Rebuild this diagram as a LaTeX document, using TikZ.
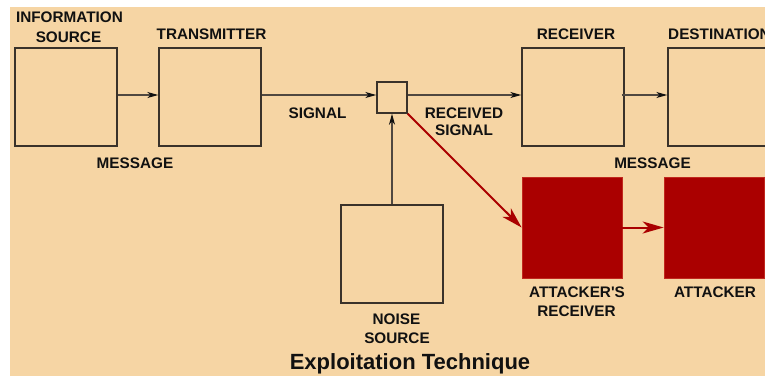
\documentclass[tikz,border=0pt]{standalone}
\usepackage{fontspec}
\setmainfont{Liberation Sans}[Ligatures=TeXOff]
\usetikzlibrary{arrows.meta}
\definecolor{tan}{RGB}{246,213,164}
\definecolor{boxline}{RGB}{58,50,42}
\definecolor{wireline}{RGB}{80,72,64}
\definecolor{darkred}{RGB}{170,0,0}
\definecolor{redline}{RGB}{192,40,30}
\definecolor{ink}{RGB}{17,17,17}
\tikzset{
  blockbox/.style={draw=boxline, line width=1.4pt, minimum width=102pt, minimum height=98pt, inner sep=0pt},
  tinybox/.style={draw=boxline, line width=1.4pt, minimum width=30pt, minimum height=31pt, inner sep=0pt},
  redbox/.style={fill=darkred, draw=redline, line width=0.8pt, minimum width=100pt, minimum height=101pt, inner sep=0pt},
  wire/.style={draw=wireline, line width=1.2pt, -{Stealth[length=11pt, width=6pt, inset=3pt, color=ink]}},
  redwire/.style={draw=darkred, line width=2pt, -{Stealth[length=21pt, width=12pt, inset=6pt]}},
  lbl/.style={font=\bfseries\fontsize{15.3}{18}\selectfont, text=ink, inner sep=0pt, anchor=base},
  titlelbl/.style={font=\bfseries\fontsize{22}{26}\selectfont, text=ink, inner sep=0pt, anchor=base}
}
\begin{document}
\begin{tikzpicture}[x=1pt, y=-1pt]
  \useasboundingbox (0,0) rectangle (765,376);
  \clip (0,0) rectangle (765,376);
  \fill[white] (0,0) rectangle (765,376);
  \fill[tan] (10,7) rectangle (765,376);

  % main channel blocks
  \node[blockbox] (info) at (66,97) {};
  \node[blockbox] (tx)   at (210,97) {};
  \node[tinybox]  (mix)  at (392,97.5) {};
  \node[blockbox] (rx)   at (573,97) {};
  \node[blockbox] (dest) at (719,97) {};
  \node[blockbox] (noise) at (392,254) {};

  % attacker blocks
  \node[redbox] (arx) at (572,227.5) {};
  \node[redbox] (att) at (714,227.5) {};

  % connectors
  \draw[wire] ([yshift=2pt]info.east) -- ([yshift=2pt]tx.west);
  \draw[wire] ([yshift=2pt]tx.east) -- ([yshift=2.5pt]mix.west);
  \draw[wire] ([yshift=2.5pt]mix.east) -- ([yshift=2pt]rx.west);
  \draw[wire] ([yshift=2pt,xshift=-3pt]rx.east) -- ([yshift=2pt]dest.west);
  \draw[wire] (noise.north) -- (mix.south);
  \draw[redwire] (mix.south east) -- (arx.west);
  \draw[redwire] (arx.east) -- (att.west);

  % labels
  \node[lbl] (l-info1) at (69.5,22) {INFORMATION};
  \node[lbl] (l-info2) at (68.5,42) {SOURCE};
  \node[lbl] (l-tx) at (211.5,39) {TRANSMITTER};
  \node[lbl] (l-msg1) at (135,168) {MESSAGE};
  \node[lbl] (l-sig) at (317.5,118) {SIGNAL};
  \node[lbl] (l-rsig1) at (464,118) {RECEIVED};
  \node[lbl] (l-rsig2) at (464,135) {SIGNAL};
  \node[lbl] (l-rx) at (576,39) {RECEIVER};
  \node[lbl, anchor=base west] (l-dest) at (668,39) {DESTINATION};
  \node[lbl] (l-msg2) at (652.5,168) {MESSAGE};
  \node[lbl] (l-noise1) at (396.5,324) {NOISE};
  \node[lbl] (l-noise2) at (397,343) {SOURCE};
  \node[lbl] (l-arx1) at (577,297) {ATTACKER'S};
  \node[lbl] (l-arx2) at (576.5,316) {RECEIVER};
  \node[lbl] (l-att) at (715,297) {ATTACKER};
  \node[titlelbl] (title) at (410,369) {Exploitation Technique};
\end{tikzpicture}
\end{document}
